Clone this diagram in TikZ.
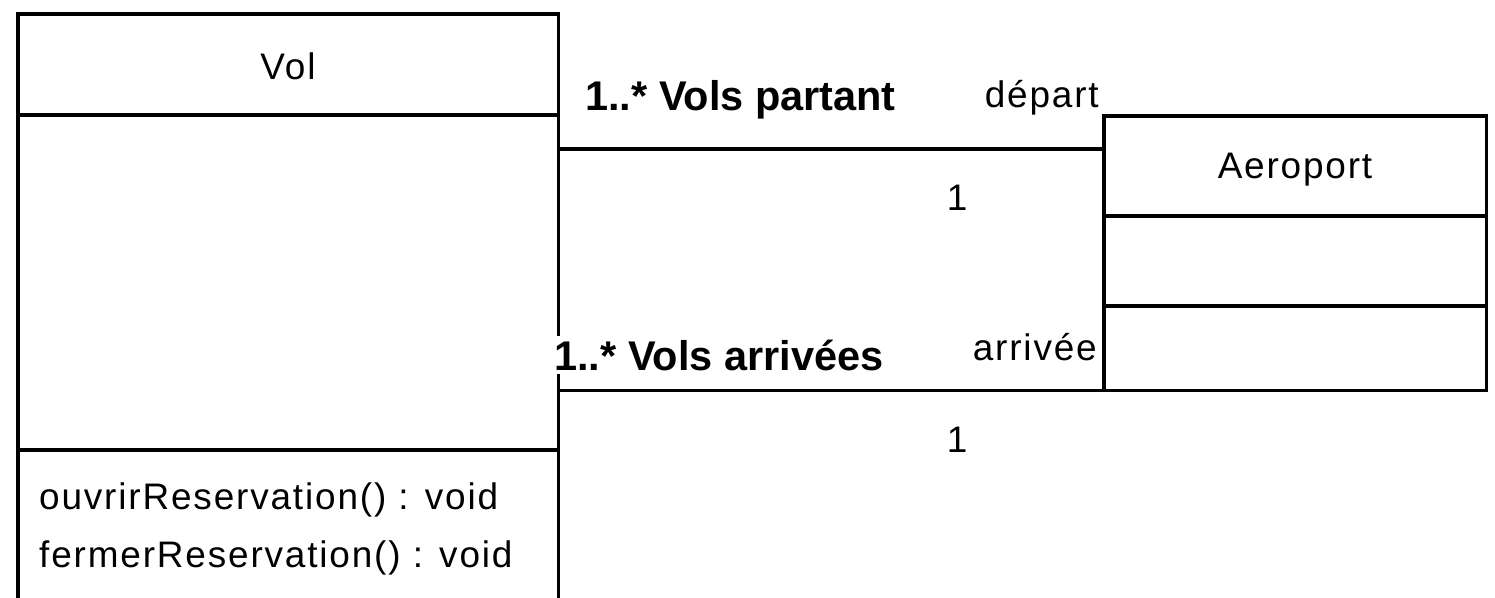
\documentclass[tikz,border=0pt]{standalone}
\usepackage{fontspec}
\setmainfont{Liberation Sans}
\usetikzlibrary{positioning}
\tikzset{
	umlbox/.style = {draw,line width=0.9pt,rectangle,inner sep=0pt,outer sep=0pt},
	assoc/.style = {line width=0.9pt},
	small/.style = {font=\fontsize{10.5}{12}\selectfont\addfontfeature{LetterSpace=5},inner sep=1pt},
	role/.style = {font=\fontsize{11.8}{14}\selectfont\bfseries,inner sep=1pt},
}

\begin{document}
\begin{tikzpicture}[x=0.01cm,y=-0.01cm]
	\useasboundingbox (0,0) rectangle (1495,597);
	\clip (0,0) rectangle (1495,597);
	\def \volL {18}
	\def \volR {558}
	\begin{scope}
		% classes
		\node [umlbox,minimum width=5.4cm,minimum height=6.3cm,anchor=north west] (vol) at (\volL,14) {};
		\node [umlbox,minimum width=3.82cm,minimum height=2.74cm,anchor=north west] (aero) at (1104,116) {};
		\draw [assoc] (vol.west |- 0,115) -- (vol.east |- 0,115);
		\draw [assoc] (vol.west |- 0,450) -- (vol.east |- 0,450);
		\draw [assoc] (aero.west |- 0,216) -- (aero.east |- 0,216);
		\draw [assoc] (aero.west |- 0,306) -- (aero.east |- 0,306);
		
		\node [small] (voltitle) at (288,66) {Vol};
		\node [small] (aerotitle) at (1295,170) {Aeroport};
		\node [small,anchor=west] (ouvrir) at (35,500) {ouvrirReservation() : void};
		\node [small,anchor=west] (fermer) at (35,558) {fermerReservation() : void};
		
		% associations
		\draw [assoc] (vol.east |- 0,149) -- (aero.west |- 0,149);
		\draw [assoc] (vol.east |- aero.south) -- (aero.south west);
		
		\node [role,anchor=west] (partant) at (581,100) {1..* Vols partant};
		\node [small,anchor=east] (depart) at (1103,98) {départ};
		\node [small] (undepart) at (957,198) {1};
		\node [role,anchor=west,fill=white] (arrivant) at (550,355) {1..* Vols arrivées};
		\node [small,anchor=east] (arrivee) at (1101,347) {arrivée};
		\node [small] (unarrivee) at (957,440) {1};
	\end{scope}
\end{tikzpicture}
\end{document}
